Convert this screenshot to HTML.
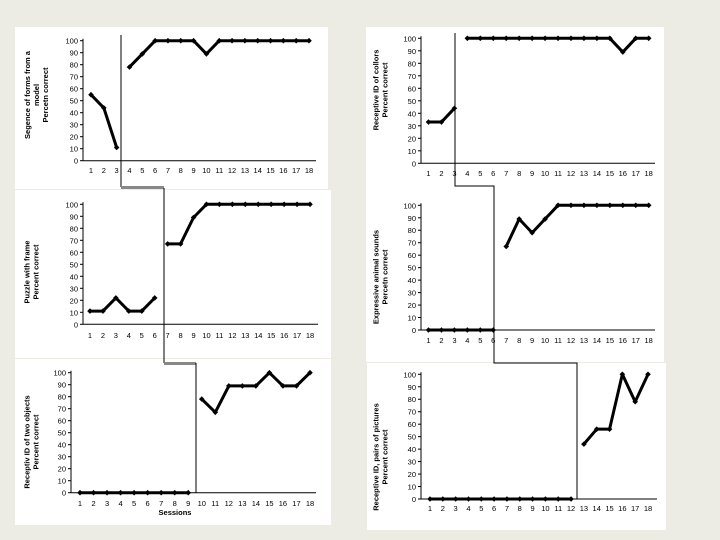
<!DOCTYPE html>
<html><head><meta charset="utf-8"><style>
html,body{margin:0;padding:0;background:#ecebe4;}
svg{display:block;font-family:"Liberation Sans",sans-serif;}
</style></head><body>
<svg id="s" width="720" height="540">
<rect x="0" y="0" width="720" height="540" fill="#ecebe4"/>
<rect x="15" y="27" width="313" height="162" fill="#fff"/>
<rect x="15" y="190" width="316" height="168" fill="#fff"/>
<rect x="15" y="359" width="316" height="166" fill="#fff"/>
<rect x="366" y="27" width="298" height="335" fill="#fff"/>
<rect x="367" y="363" width="299" height="167" fill="#fff"/>
<g fill="none" stroke-width="1">
<polyline points="121,35 121,187" stroke="#000"/>
<line x1="121" y1="187.5" x2="164" y2="187.5" stroke="#888" stroke-width="3"/>
<polyline points="164,188 164,363" stroke="#000"/>
<line x1="164" y1="363.5" x2="196" y2="363.5" stroke="#888" stroke-width="3"/>
<polyline points="196,363 196,493" stroke="#000"/>
<polyline points="455,33 455,186 494,186 494,363 577,363 577,499" stroke="#000"/>
</g>
</svg>
<script>
const sessions=[1,2,3,4,5,6,7,8,9,10,11,12,13,14,15,16,17,18];
const yTicks=[0,10,20,30,40,50,60,70,80,90,100];
// series values per chart (null = gap between phases)
const formsValues=[55,44,11,null,78,89,100,100,100,100,89,100,100,100,100,100,100,100,100];
const puzzleValues=[11,11,22,11,11,22,null,67,67,89,100,100,100,100,100,100,100,100,100];
const objectsValues=[0,0,0,0,0,0,0,0,0,null,78,67,89,89,89,100,89,89,100];
const colorsValues=[33,33,44,null,100,100,100,100,100,100,100,100,100,100,100,100,89,100,100];
const soundsValues=[0,0,0,0,0,0,null,67,89,78,89,100,100,100,100,100,100,100,100];
const picturesValues=[0,0,0,0,0,0,0,0,0,0,0,0,null,44,56,56,100,78,100];
const formsLabel=["Segence of forms from a","model","Percetn correct"];
const puzzleLabel=["Puzzle with frame","Percent correct"];
const objectsLabel=["Receptiv ID of two objects","Percent correct"];
const colorsLabel=["Receptive ID of collors","Percent correct"];
const soundsLabel=["Expressive animal sounds","Percetn correct"];
const picturesLabel=["Receptive ID, pairs of pictures","Percent correct"];

const NS="http://www.w3.org/2000/svg";
const svg=document.getElementById('s');
function mk(tag,attrs,parent){const e=document.createElementNS(NS,tag);for(const k in attrs)e.setAttribute(k,attrs[k]);(parent||svg).appendChild(e);return e;}

function chart(name,vals,labels,c){
  const g=mk('g',{});
  
  
  const sx=i=>c.x1+(c.x18-c.x1)*(i-1)/17;
  const sy=v=>c.y0+(c.y100-c.y0)*v/100;
  mk('line',{x1:c.ax,y1:sy(100)-2,x2:c.ax,y2:c.y0,stroke:'#000','stroke-width':1},g);
  mk('line',{x1:c.ax,y1:c.y0,x2:c.axEnd,y2:c.y0,stroke:'#000','stroke-width':1},g);
  yTicks.forEach(t=>{
    mk('line',{x1:c.ax-3,y1:sy(t),x2:c.ax,y2:sy(t),stroke:'#000'},g);
    const tx=mk('text',{x:c.ax-5,y:sy(t)+3,'font-size':7.5,'text-anchor':'end'},g);
    tx.textContent=t;
    
    
  });
  sessions.forEach(s=>{
    const tx=mk('text',{x:sx(s),y:c.ly,'font-size':7.5,'text-anchor':'middle'},g);
    tx.textContent=s;
    
    
  });
  let seg=[];const segs=[];let idx=0;
  vals.forEach(v=>{ if(v===null){ if(seg.length)segs.push(seg); seg=[]; } else { idx++; seg.push([sx(idx),sy(v)]); } });
  if(seg.length)segs.push(seg);
  segs.forEach(sg=>{
    const pl=mk('polyline',{points:sg.map(p=>p.join(',')).join(' '),fill:'none',stroke:'#000','stroke-width':3,'stroke-linejoin':'round'},g);
    
    
    sg.forEach(p=>{
      const d=mk('path',{d:`M${p[0]-2.8},${p[1]}L${p[0]},${p[1]-2.8}L${p[0]+2.8},${p[1]}L${p[0]},${p[1]+2.8}Z`,fill:'#000'},g);
      
      
    });
  });
  const n=labels.length;
  const t=mk('text',{transform:`translate(${c.tx},${c.tcy}) rotate(-90)`,'font-size':7.5,'font-weight':'bold','text-anchor':'middle'},g);
  
  
  labels.forEach((l,i)=>{const ts=mk('tspan',{x:0,y:(i-(n-1)/2)*9+3},t);ts.textContent=l;});
  if(c.xt){const xt=mk('text',{x:c.xt[0],y:c.xt[1],'font-size':7.5,'font-weight':'bold','text-anchor':'middle'},g);xt.textContent='Sessions';
    
    }
}
chart('forms',formsValues,formsLabel,{ax:83,axEnd:316,x1:91,x18:309,y0:160.7,y100:40.7,ly:173,tx:36,tcy:95});
chart('puzzle',puzzleValues,puzzleLabel,{ax:83,axEnd:318,x1:90,x18:310,y0:324.3,y100:204.3,ly:338,tx:31,tcy:272});
chart('objects',objectsValues,objectsLabel,{ax:71,axEnd:316,x1:80,x18:310,y0:492.7,y100:372.7,ly:506,tx:31,tcy:442,xt:[175,515]});
chart('colors',colorsValues,colorsLabel,{ax:421,axEnd:655,x1:428.5,x18:648.7,y0:163.3,y100:38.3,ly:176,tx:380,tcy:90});
chart('sounds',soundsValues,soundsLabel,{ax:421,axEnd:655,x1:428.5,x18:648.7,y0:330,y100:205.3,ly:343,tx:380,tcy:277});
chart('pictures',picturesValues,picturesLabel,{ax:421,axEnd:657,x1:430,x18:648,y0:499,y100:374.3,ly:511,tx:380,tcy:457});
</script>
</body></html>
